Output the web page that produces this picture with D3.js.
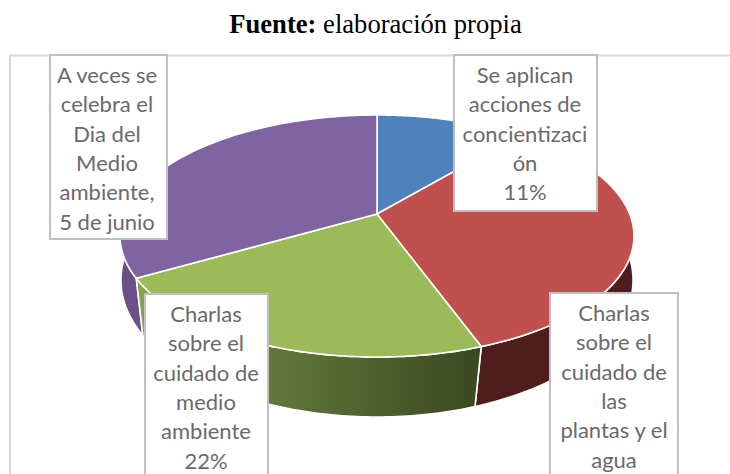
<!DOCTYPE html>
<html><head><meta charset="utf-8">
<script src="https://cdn.jsdelivr.net/npm/d3@7"></script>
<style>html,body{margin:0;padding:0;background:#fff;overflow:hidden}svg{display:block}</style>
</head><body><svg id="c" width="730" height="474"></svg>
<script>
const categories = ["Se aplican acciones de concientización","Charlas sobre el cuidado de las plantas y el agua","Charlas sobre el cuidado de medio ambiente","A veces se celebra el Dia del Medio ambiente, 5 de junio"];
const seriesValues = [1,3,2,3];
const topColors = ["#4f81bd","#c0504d","#9bbb59","#8064a2"];
const wallColors = ["#2f4d71","#4f1e1c","url(#greenWall)","#6b5088"];
const labelLines = [
  ["Se aplican","acciones de","concientizaci","ón","11%"],
  ["Charlas","sobre el","cuidado de","las","plantas y el","agua"],
  ["Charlas","sobre el","cuidado de","medio","ambiente","22%"],
  ["A veces se","celebra el","Dia del","Medio","ambiente,","5 de junio"]
];
const labelBoxes = [
  {x:454,y:55,w:143,h:156,tx:525,ty:83},
  {x:550,y:293,w:128,h:190,tx:614,ty:321},
  {x:145,y:294,w:123,h:190,tx:206,ty:322},
  {x:50,y:55,w:117,h:184,tx:107,ty:83}
];
const svg = d3.select("#c");
const defs = svg.append("defs");
const g = defs.append("linearGradient").attr("id","greenWall").attr("gradientUnits","userSpaceOnUse")
  .attr("x1",135).attr("x2",481).attr("y1",0).attr("y2",0);
g.append("stop").attr("offset",0).attr("stop-color","#86a64c");
g.append("stop").attr("offset",0.4).attr("stop-color","#63773a");
g.append("stop").attr("offset",1).attr("stop-color","#3a4820");

// chart frame
svg.append("path").attr("d","M10,474V55.5H730").attr("fill","none").attr("stroke","#d9d9d9").attr("stroke-width",2);

// perspective-projected circle: top face and bottom rim
const topP = {cx:377,cy:214,A:252.7,B:117,k:-0.1818};
const botP = {cx:377,cy:263.6,A:254.2,B:135,k:-0.12};
const proj = (p,a) => {
  const u = Math.sin(a), v = -Math.cos(a), d = 1+p.k*v;
  return [p.cx+p.A*u/d, p.cy+p.B*v/d];
};
const pie = d3.pie().sort(null).value(d=>d);
const arcs = pie(seriesValues);
const line = d3.line();
const samples = (a0,a1) => d3.range(0,81).map(i=>a0+(a1-a0)*i/80);

const walls = svg.append("g");
[0,3,1,2].forEach(i=>{
  const s = arcs[i];
  const pts = samples(s.startAngle,s.endAngle);
  const poly = pts.map(a=>proj(topP,a)).concat(pts.slice().reverse().map(a=>proj(botP,a)));
  walls.append("path").attr("d",line(poly)+"Z").attr("fill",wallColors[i])
    .attr("stroke","#fff").attr("stroke-width",1.6).attr("stroke-linejoin","round");
});
const tops = svg.append("g");
arcs.forEach((s,i)=>{
  const poly = [[topP.cx,topP.cy]].concat(samples(s.startAngle,s.endAngle).map(a=>proj(topP,a)));
  tops.append("path").attr("d",line(poly)+"Z").attr("fill",topColors[i])
    .attr("stroke","#fff").attr("stroke-width",1.6).attr("stroke-linejoin","round");
});

// data labels
labelBoxes.forEach((b,i)=>{
  const l = svg.append("g");
  l.append("rect").attr("x",b.x).attr("y",b.y).attr("width",b.w).attr("height",b.h)
    .attr("fill","#fff").attr("stroke","#bfbfbf").attr("stroke-width",2);
  l.selectAll("text").data(labelLines[i]).join("text")
    .attr("x",b.tx).attr("y",(d,j)=>b.ty+j*29.3)
    .attr("text-anchor","middle").attr("fill","#6a6a6a")
    .attr("font-family","Lato, Carlito, sans-serif").attr("font-size",22)
    .text(d=>d);
});

// caption
const t = svg.append("text").attr("x",375.5).attr("y",33).attr("text-anchor","middle")
  .attr("font-family","'Liberation Serif', serif").attr("font-size",26.6).attr("fill","#000");
t.append("tspan").attr("font-weight","bold").text("Fuente:");
t.append("tspan").text(" elaboración propia");
</script></body></html>
